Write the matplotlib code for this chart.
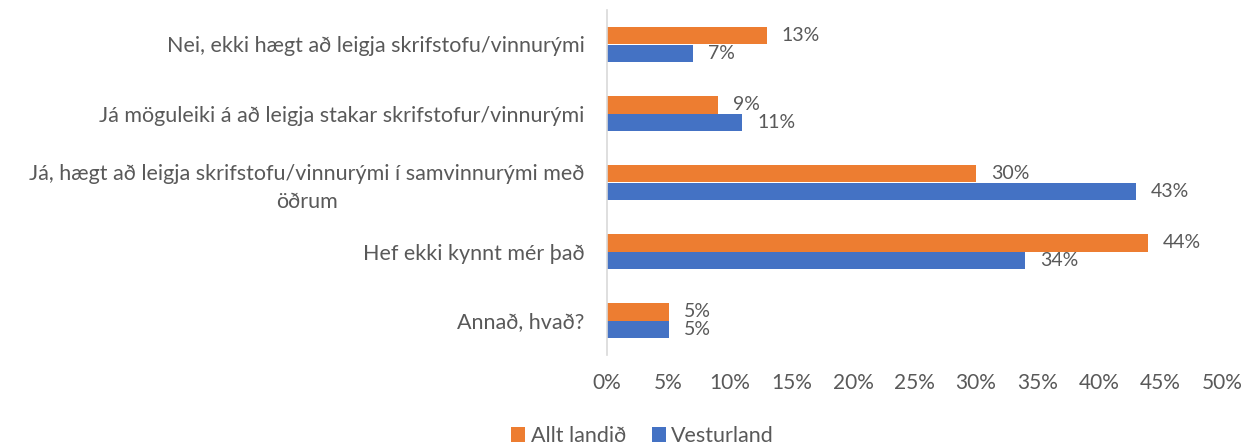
import numpy as np
import matplotlib
matplotlib.use('Agg')
import matplotlib.pyplot as plt

categories = ['Nei, ekki hægt að leigja skrifstofu/vinnurými',
              'Já möguleiki á að leigja stakar skrifstofur/vinnurými',
              'Já, hægt að leigja skrifstofu/vinnurými í samvinnurými með\nöðrum',
              'Hef ekki kynnt mér það',
              'Annað, hvað?']
allt_landid = [13, 9, 30, 44, 5]
vesturland = [7, 11, 43, 34, 5]
xticks = [0, 5, 10, 15, 20, 25, 30, 35, 40, 45, 50]

orange = '#ED7D31'
blue = '#4472C4'
grey = '#595959'

plt.rcParams['font.family'] = ['Lato', 'DejaVu Sans']

fig = plt.figure(figsize=(12.55, 4.46), dpi=100)
ax = fig.add_axes([607/1255, 1-355/446, (1222-607)/1255, 345/446])

y = np.arange(len(categories))
h = 0.255
b1 = ax.barh(y - h/2, allt_landid, height=h, color=orange, label='Allt landið')
b2 = ax.barh(y + h/2, vesturland, height=h, color=blue, label='Vesturland')

for bars, vals in ((b1, allt_landid), (b2, vesturland)):
    for bar, v in zip(bars, vals):
        ax.annotate(f'{v}%', (bar.get_width(), bar.get_y() + bar.get_height()/2),
                    xytext=(15, 0), textcoords='offset pixels',
                    ha='left', va='center', color=grey, fontsize=14)

ax.set_ylim(len(categories) - 0.5, -0.5)
ax.set_xlim(0, 50)
ax.set_xticks(xticks)
ax.set_xticklabels([f'{t}%' for t in xticks], color=grey, fontsize=15)
ax.set_yticks(y)
ax.set_yticklabels(categories, color=grey, fontsize=15.5, multialignment='center',
                   linespacing=1.45)
ax.tick_params(axis='both', length=0)
ax.tick_params(axis='x', pad=13)
ax.tick_params(axis='y', pad=16)

for s in ['top', 'right', 'bottom']:
    ax.spines[s].set_visible(False)
ax.spines['left'].set_color('#D9D9D9')
ax.spines['left'].set_linewidth(1.2)

handles, labels = ax.get_legend_handles_labels()
fig.legend(handles, labels, loc='center', bbox_to_anchor=(0.512, 0.022), ncol=2,
           frameon=False, fontsize=15.5, handlelength=0.65, handleheight=0.65,
           handletextpad=0.25, columnspacing=1.2, labelcolor=grey)

fig.savefig('out.png', dpi=100)
